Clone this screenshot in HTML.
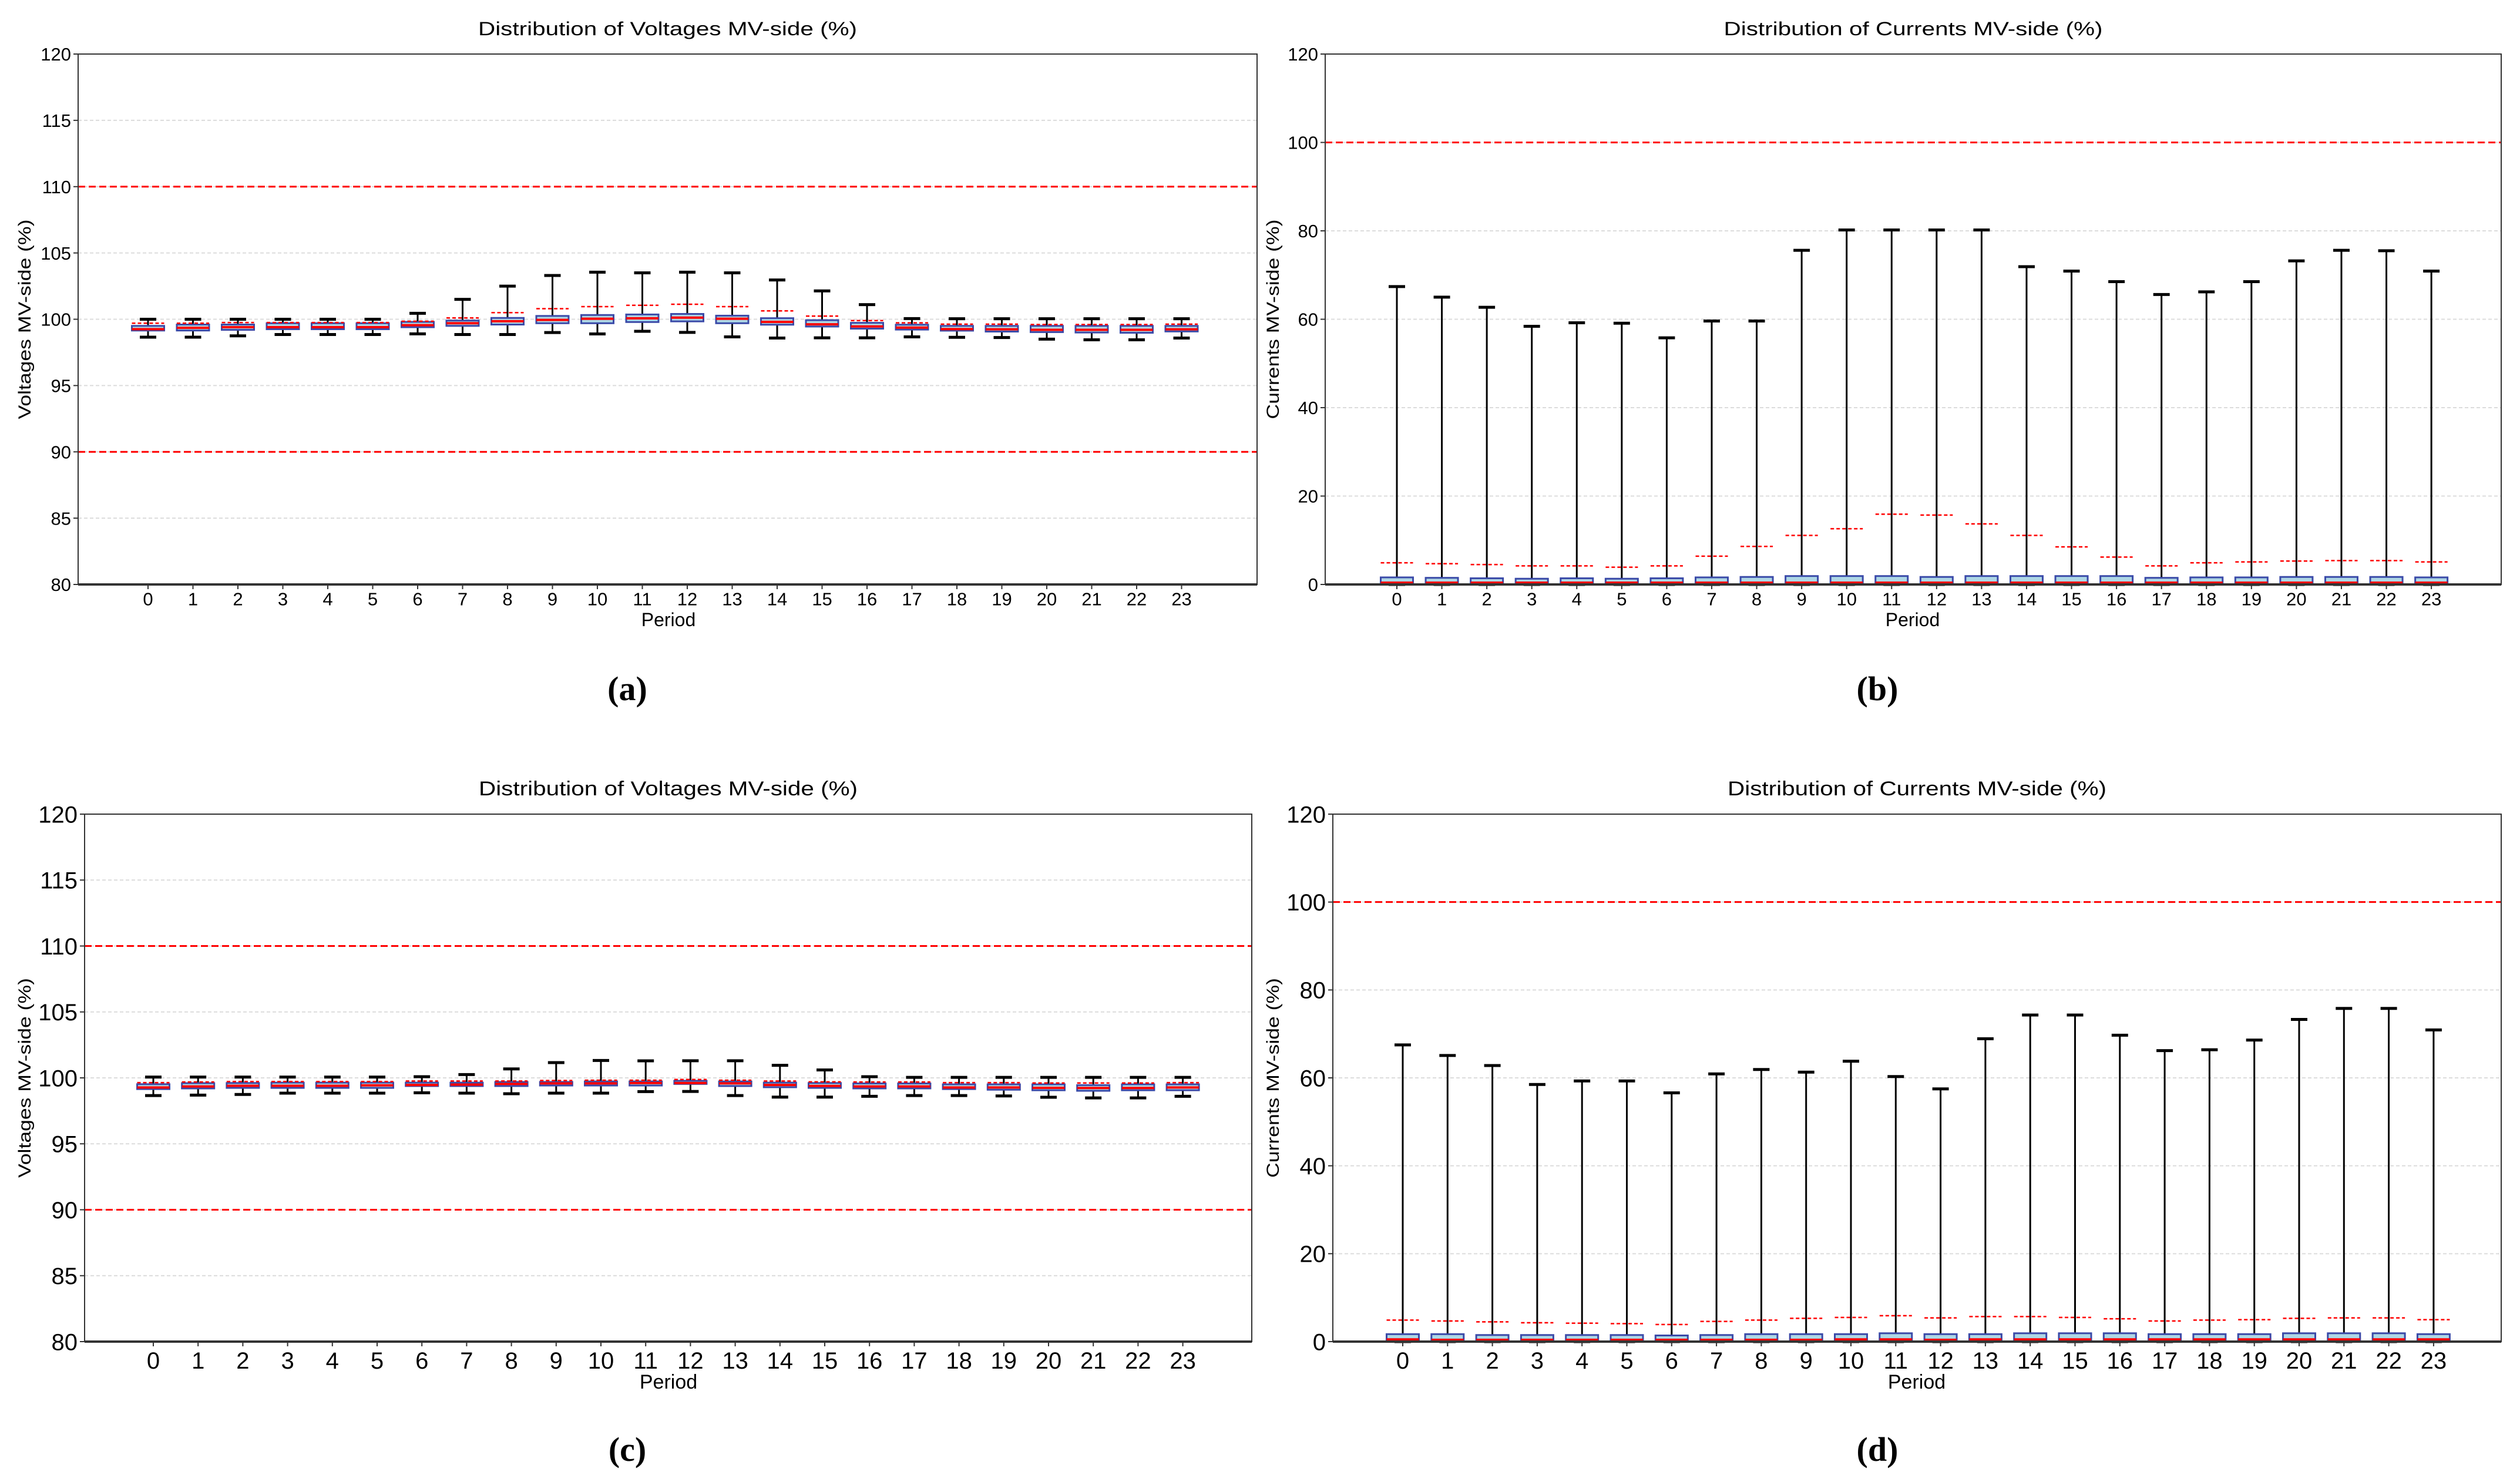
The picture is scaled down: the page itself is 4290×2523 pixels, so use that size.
<!DOCTYPE html>
<html><head><meta charset="utf-8"><style>
html,body{margin:0;padding:0;background:#fff;}
svg{display:block;}
text{font-family:"Liberation Sans",sans-serif;fill:#000;}
</style></head>
<body>
<svg id="fig" width="4290" height="2523" viewBox="0 0 4290 2523" xmlns="http://www.w3.org/2000/svg"></svg>
<script>
const periods = ["0","1","2","3","4","5","6","7","8","9","10","11","12","13","14","15","16","17","18","19","20","21","22","23"];
const voltTicks = [80,85,90,95,100,105,110,115,120];
const currTicks = [0,20,40,60,80,100,120];

// (a) voltages
const aHi   = [100.0,100.0,100.0,100.0,100.0,100.0,100.45,101.5,102.5,103.3,103.55,103.5,103.55,103.5,102.96,102.14,101.1,100.05,100.04,100.04,100.04,100.04,100.04,100.04];
const aQ3   = [99.5,99.6,99.6,99.7,99.7,99.7,99.8,99.9,100.1,100.25,100.32,100.36,100.4,100.27,100.08,99.93,99.73,99.59,99.5,99.5,99.5,99.5,99.5,99.5];
const aMed  = [99.25,99.35,99.4,99.4,99.4,99.4,99.55,99.7,99.85,99.95,100.04,100.07,100.12,100.04,99.8,99.62,99.46,99.37,99.26,99.24,99.2,99.2,99.2,99.24];
const aQ1   = [99.15,99.15,99.2,99.25,99.25,99.25,99.4,99.5,99.6,99.7,99.7,99.79,99.84,99.7,99.59,99.45,99.29,99.22,99.14,99.07,99.03,99.0,98.98,99.08];
const aLo   = [98.65,98.65,98.75,98.85,98.85,98.85,98.9,98.85,98.85,99.0,98.89,99.09,99.01,98.67,98.58,98.6,98.6,98.67,98.64,98.62,98.5,98.45,98.45,98.58];
const aMean = [99.7,99.7,99.75,99.75,99.75,99.75,99.85,100.1,100.5,100.8,100.95,101.05,101.13,100.95,100.63,100.24,99.9,99.73,99.63,99.63,99.6,99.6,99.6,99.63];

// (b) currents
const bHi   = [67.4,65.0,62.7,58.4,59.2,59.1,55.8,59.6,59.6,75.6,80.2,80.2,80.2,80.2,71.9,70.9,68.5,65.6,66.2,68.5,73.2,75.6,75.5,70.9];
const bQ3   = [1.6,1.5,1.4,1.3,1.4,1.3,1.4,1.6,1.7,1.9,1.9,1.9,1.7,1.9,1.9,1.9,1.9,1.5,1.6,1.6,1.7,1.7,1.7,1.6];
const bMed  = [0.4,0.4,0.4,0.4,0.4,0.4,0.4,0.4,0.4,0.4,0.4,0.4,0.4,0.4,0.4,0.4,0.4,0.4,0.4,0.4,0.4,0.4,0.4,0.4];
const bQ1   = [0.05,0.05,0.05,0.05,0.05,0.05,0.05,0.05,0.05,0.05,0.05,0.05,0.05,0.05,0.05,0.05,0.05,0.05,0.05,0.05,0.05,0.05,0.05,0.05];
const bLo   = [0,0,0,0,0,0,0,0,0,0,0,0,0,0,0,0,0,0,0,0,0,0,0,0];
const bMean = [4.9,4.7,4.5,4.2,4.2,3.9,4.2,6.4,8.6,11.1,12.6,15.9,15.7,13.7,11.1,8.5,6.2,4.2,4.9,5.1,5.3,5.4,5.4,5.1];

// (c) voltages
const cHi   = [100.06,100.06,100.06,100.06,100.06,100.06,100.09,100.25,100.68,101.16,101.32,101.29,101.3,101.3,100.95,100.6,100.09,100.04,100.04,100.04,100.04,100.04,100.04,100.04];
const cQ3   = [99.52,99.6,99.61,99.64,99.64,99.64,99.64,99.64,99.69,99.69,99.73,99.73,99.78,99.73,99.64,99.61,99.58,99.58,99.51,99.51,99.51,99.45,99.51,99.51];
const cMed  = [99.27,99.35,99.4,99.4,99.4,99.43,99.46,99.49,99.54,99.58,99.58,99.61,99.61,99.58,99.46,99.39,99.35,99.35,99.27,99.27,99.24,99.23,99.23,99.27];
const cQ1   = [99.15,99.2,99.24,99.24,99.24,99.24,99.38,99.38,99.38,99.42,99.42,99.42,99.54,99.38,99.29,99.24,99.2,99.2,99.15,99.1,99.06,99.02,99.06,99.06];
const cLo   = [98.66,98.69,98.74,98.84,98.84,98.84,98.87,98.84,98.8,98.84,98.84,98.96,98.97,98.66,98.54,98.54,98.6,98.66,98.66,98.63,98.53,98.48,98.48,98.6];
const cMean = [99.64,99.69,99.72,99.72,99.72,99.72,99.76,99.76,99.76,99.8,99.82,99.82,99.88,99.82,99.76,99.7,99.69,99.69,99.64,99.64,99.61,99.61,99.61,99.64];

// (d) currents
const dHi   = [67.5,65.1,62.8,58.5,59.3,59.3,56.6,60.9,61.9,61.3,63.8,60.3,57.5,68.9,74.3,74.3,69.7,66.2,66.4,68.6,73.3,75.8,75.8,70.9];
const dQ3   = [1.7,1.7,1.5,1.5,1.5,1.5,1.4,1.5,1.7,1.7,1.7,1.9,1.7,1.7,1.9,1.9,1.9,1.7,1.7,1.7,1.9,1.9,1.9,1.7];
const dMed  = [0.5,0.4,0.4,0.4,0.4,0.4,0.4,0.4,0.4,0.4,0.5,0.5,0.4,0.5,0.5,0.5,0.5,0.5,0.5,0.5,0.5,0.5,0.5,0.5];
const dQ1   = [0.05,0.05,0.05,0.05,0.05,0.05,0.05,0.05,0.05,0.05,0.05,0.05,0.05,0.05,0.05,0.05,0.05,0.05,0.05,0.05,0.05,0.05,0.05,0.05];
const dLo   = [0,0,0,0,0,0,0,0,0,0,0,0,0,0,0,0,0,0,0,0,0,0,0,0];
const dMean = [4.9,4.7,4.5,4.3,4.2,4.1,3.9,4.6,4.9,5.3,5.5,5.9,5.4,5.7,5.7,5.5,5.2,4.7,4.9,5.0,5.3,5.4,5.4,5.0];

const NS = "http://www.w3.org/2000/svg";
const svg = document.getElementById("fig");
function mk(tag, attrs, parent){
  const e = document.createElementNS(NS, tag);
  for (const k in attrs) e.setAttribute(k, attrs[k]);
  (parent||svg).appendChild(e);
  return e;
}

function panel(cfg){
  const g = mk("g", {});
  
  
  const yS = v => cfg.bottom - (v - cfg.ymin) / (cfg.ymax - cfg.ymin) * (cfg.bottom - cfg.top);
  const xS = i => cfg.x0 + i * cfg.dx;

  // grid
  cfg.ticks.forEach(t => {
    const gl = mk("line", {x1:cfg.left, x2:cfg.right, y1:yS(t), y2:yS(t), stroke:"#dcdcdc", "stroke-width":2, "stroke-dasharray":"6,4"}, g);
    
    
  });
  // limit lines
  cfg.limits.forEach(l => {
    const ll = mk("line", {x1:cfg.left, x2:cfg.right, y1:yS(l), y2:yS(l), stroke:"#ff0000", "stroke-width":3, "stroke-dasharray":"12,6"}, g);
    
    
  });
  // boxes
  const bw = 55, cw = 28;
  periods.forEach((p, i) => {
    const x = xS(i);
    const bg = mk("g", {}, g);
    
    
    mk("line", {x1:x, x2:x, y1:yS(cfg.hi[i]), y2:yS(cfg.q3[i]), stroke:"#000", "stroke-width":3}, bg);
    mk("line", {x1:x, x2:x, y1:yS(cfg.q1[i]), y2:yS(cfg.lo[i]), stroke:"#000", "stroke-width":3}, bg);
    mk("line", {x1:x-cw/2, x2:x+cw/2, y1:yS(cfg.hi[i]), y2:yS(cfg.hi[i]), stroke:"#000", "stroke-width":5}, bg);
    mk("line", {x1:x-cw/2, x2:x+cw/2, y1:yS(cfg.lo[i]), y2:yS(cfg.lo[i]), stroke:"#000", "stroke-width":5}, bg);
    const top = yS(cfg.q3[i]), bot = yS(cfg.q1[i]);
    mk("rect", {x:x-bw/2, y:top, width:bw, height:Math.max(bot-top,1), fill:"#add8e6", stroke:"#3a4aa8", "stroke-width":3}, bg);
    mk("line", {x1:x-bw/2, x2:x+bw/2, y1:yS(cfg.med[i]), y2:yS(cfg.med[i]), stroke:"#ff0000", "stroke-width":4}, bg);
    mk("line", {x1:x-bw/2, x2:x+bw/2, y1:yS(cfg.mean[i]), y2:yS(cfg.mean[i]), stroke:"#ff0000", "stroke-width":2.5, "stroke-dasharray":"6,4"}, bg);
  });
  // frame
  const fr = mk("rect", {x:cfg.left, y:cfg.top, width:cfg.right-cfg.left, height:cfg.bottom-cfg.top, fill:"none", stroke:"#333", "stroke-width":2}, g);
  
  
  mk("line", {x1:cfg.left, x2:cfg.right, y1:cfg.bottom, y2:cfg.bottom, stroke:"#333", "stroke-width":4}, g);
  // y ticks
  cfg.ticks.forEach(t => {
    mk("line", {x1:cfg.left-8, x2:cfg.left, y1:yS(t), y2:yS(t), stroke:"#333", "stroke-width":2}, g);
    const tl = mk("text", {x:cfg.left-12, y:yS(t)+cfg.fs*0.36, "text-anchor":"end", "font-size":cfg.fs}, g);
    tl.textContent = t;
    
    
  });
  // x ticks
  periods.forEach((p, i) => {
    mk("line", {x1:xS(i), x2:xS(i), y1:cfg.bottom, y2:cfg.bottom+8, stroke:"#333", "stroke-width":2}, g);
    const tl = mk("text", {x:xS(i), y:cfg.bottom+cfg.fs*1.15, "text-anchor":"middle", "font-size":cfg.fs}, g);
    tl.textContent = p;
    
    
  });
  // title
  const tt = mk("text", {x:(cfg.left+cfg.right)/2, y:cfg.titleY, "text-anchor":"middle", "font-size":cfg.tfs, textLength:645, lengthAdjust:"spacingAndGlyphs"}, g);
  tt.textContent = cfg.title;
  
  
  // x label
  const xl = mk("text", {x:cfg.periodX, y:cfg.periodY, "text-anchor":"middle", "font-size":cfg.tfs}, g);
  xl.textContent = "Period";
  
  
  // y label
  const cy = (cfg.top+cfg.bottom)/2;
  const yl = mk("text", {x:0, y:0, "text-anchor":"middle", "font-size":30, textLength:340, lengthAdjust:"spacingAndGlyphs", transform:"translate("+cfg.ylabX+","+cy+") rotate(-90)"}, g);
  yl.textContent = cfg.ylabel;
  
  
  // letter
  const lt = mk("text", {x:cfg.letterX, y:cfg.letterY, "text-anchor":"middle", "font-size":58, "font-weight":"bold", style:"font-family:'Liberation Serif',serif"}, g);
  lt.textContent = cfg.letter;
  
  
}

panel({name:"panel-a-voltages", left:133, right:2140, top:92, bottom:995, x0:252, dx:76.5, ymin:80, ymax:120, ticks:voltTicks, limits:[110,90],
  hi:aHi,q3:aQ3,med:aMed,q1:aQ1,lo:aLo,mean:aMean, fs:31, tfs:32, title:"Distribution of Voltages MV-side (%)", titleY:60,
  periodX:1138, periodY:1066, ylabel:"Voltages MV-side (%)", ylabX:52, letter:"(a)", letterX:1068, letterY:1192});
panel({name:"panel-b-currents", left:2256, right:4258, top:92, bottom:995, x0:2378, dx:76.57, ymin:0, ymax:120, ticks:currTicks, limits:[100],
  hi:bHi,q3:bQ3,med:bMed,q1:bQ1,lo:bLo,mean:bMean, fs:31, tfs:32, title:"Distribution of Currents MV-side (%)", titleY:60,
  periodX:3256, periodY:1066, ylabel:"Currents MV-side (%)", ylabX:2177, letter:"(b)", letterX:3196, letterY:1192});
panel({name:"panel-c-voltages", left:144, right:2131, top:1386, bottom:2284, x0:261, dx:76.2, ymin:80, ymax:120, ticks:voltTicks, limits:[110,90],
  hi:cHi,q3:cQ3,med:cMed,q1:cQ1,lo:cLo,mean:cMean, fs:40, tfs:34, title:"Distribution of Voltages MV-side (%)", titleY:1354,
  periodX:1138, periodY:2364, ylabel:"Voltages MV-side (%)", ylabX:52, letter:"(c)", letterX:1068, letterY:2487});
panel({name:"panel-d-currents", left:2269, right:4258, top:1386, bottom:2284, x0:2388, dx:76.3, ymin:0, ymax:120, ticks:currTicks, limits:[100],
  hi:dHi,q3:dQ3,med:dMed,q1:dQ1,lo:dLo,mean:dMean, fs:40, tfs:34, title:"Distribution of Currents MV-side (%)", titleY:1354,
  periodX:3263, periodY:2364, ylabel:"Currents MV-side (%)", ylabX:2177, letter:"(d)", letterX:3196, letterY:2487});
</script>
</body></html>
